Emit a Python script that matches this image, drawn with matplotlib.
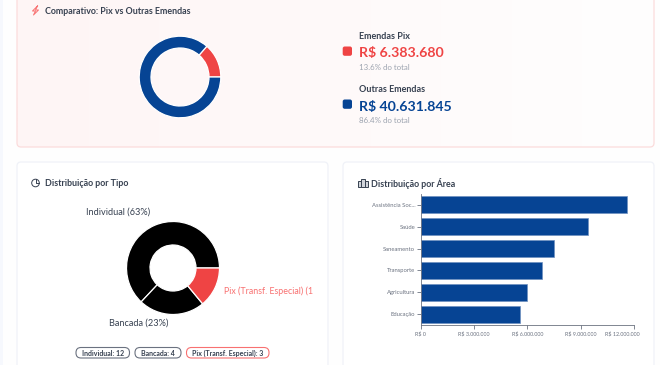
import matplotlib.pyplot as plt
import numpy as np
from matplotlib.patches import FancyBboxPatch, Rectangle
from matplotlib.ticker import FuncFormatter
from matplotlib.transforms import ScaledTranslation

W, H = 660, 365

# Comparativo
comp_labels = ['Emendas Pix', 'Outras Emendas']
comp_values = [6383680, 40631845]
comp_texts = ['R$ 6.383.680', 'R$ 40.631.845']
comp_pcts = ['13.6% do total', '86.4% do total']

# Tipo
tipo_labels = ['Individual', 'Bancada', 'Pix (Transf. Especial)']
tipo_values = [63, 23, 14]
tipo_counts = [12, 4, 3]

# Area
areas = ['Assistência Soc...', 'Saúde', 'Saneamento', 'Transporte', 'Agricultura', 'Educação']
area_values = [11580000, 9430000, 7520000, 6820000, 6000000, 5600000]
area_ticks = [0, 3000000, 6000000, 9000000, 12000000]

RED = '#ef4444'
BLUE = '#064494'
DARK = '#374151'
GRAY = '#9ca3af'

plt.rcParams['font.family'] = ['Lato', 'DejaVu Sans']

fig = plt.figure(figsize=(W / 100, H / 100), dpi=100, facecolor='#fefefe')
bg = fig.add_axes([0, 0, 1, 1])
bg.set_xlim(0, W)
bg.set_ylim(H, 0)
bg.axis('off')


def card(x, y, w, h, edge, face='white'):
    p = FancyBboxPatch((x, y), w, h, boxstyle='round,pad=0,rounding_size=4',
                       fc=face, ec=edge, lw=0.9)
    bg.add_patch(p)
    return p


def sub_axes(x0, y0, x1, y1):
    return fig.add_axes([x0 / W, 1 - y1 / H, (x1 - x0) / W, (y1 - y0) / H])


bg.add_patch(Rectangle((0, 0), 3, H, fc='#f6f8fd', ec='none'))

# card with the pink gradient
top = card(17, -8, 637, 155, '#fbdcdc', 'none')
grad = np.linspace(0, 1, 256)
left = np.array([254, 245, 245]) / 255
right = np.array([255, 254, 254]) / 255
cols = (left + (right - left) * grad[:, None])[None, :, :]
im = bg.imshow(cols, extent=(17, 654, 147, -8), aspect='auto', zorder=0)
im.set_clip_path(top)
bg.set_xlim(0, W)
bg.set_ylim(H, 0)

card(17, 162, 311, 215, '#f0f2f8')
card(343, 162, 311, 215, '#f0f2f8')

# titles
bg.text(45, 11, 'Comparativo: Pix vs Outras Emendas', fontsize=6.4, color=DARK,
        va='center', fontweight='bold')
bg.text(45, 183.5, 'Distribuição por Tipo', fontsize=6.4, color=DARK, va='center', fontweight='bold')
bg.text(371, 183.5, 'Distribuição por Área', fontsize=6.4, color=DARK, va='center', fontweight='bold')

# small title icons
bg.plot([37.5, 32.5, 35.5, 33.5, 38.5, 35.5, 37.5], [6, 11, 11, 15, 10, 10, 6], color='#f87171', lw=0.7)
bg.add_patch(plt.Circle((35.5, 183), 3.8, fc='none', ec=DARK, lw=0.7))
bg.plot([35.5, 35.5, 39.3], [179.2, 183, 183], color=DARK, lw=0.7)
for ix, iy, iw, ih in [(357.5, 181, 3, 6), (360.5, 179, 4, 8), (364.5, 181, 3, 6)]:
    bg.add_patch(Rectangle((ix, iy), iw, ih, fc='#d1d5db', ec=DARK, lw=0.7))

# comparativo donut
ax = sub_axes(180 - 42, 77 - 42, 180 + 42, 77 + 42)
ax.pie(comp_values, colors=[RED, BLUE], startangle=0, counterclock=True, radius=40.8 / 42,
       wedgeprops=dict(width=11.8 / 42, edgecolor='white', linewidth=0.9))
ax.set_xlim(-1, 1)
ax.set_ylim(-1, 1)

# comparativo legend
rows_y = [36.5, 89.5]
for i, c in enumerate([RED, BLUE]):
    y = rows_y[i]
    bg.add_patch(FancyBboxPatch((342.7, y + 10, ), 9.3, 9.3, boxstyle='round,pad=0,rounding_size=2',
                                fc=c, ec='none'))
    bg.text(359, y, comp_labels[i], fontsize=6.5, color=DARK, va='center', fontweight='bold')
    bg.text(359, y + 17, comp_texts[i], fontsize=10.2, color=c, va='center', fontweight='bold')
    bg.text(359, y + 31, comp_pcts[i], fontsize=5.7, color=GRAY, va='center')

# tipo donut
ax2 = sub_axes(173 - 48, 268 - 48, 173 + 48, 268 + 48)
ax2.pie(tipo_values, colors=['black', 'black', RED], startangle=0, counterclock=True,
        radius=46.5 / 48, wedgeprops=dict(width=23.5 / 48, edgecolor='white', linewidth=0.9))
ax2.set_xlim(-1, 1)
ax2.set_ylim(-1, 1)

bg.text(86, 212, f'{tipo_labels[0]} ({tipo_values[0]}%)', fontsize=6.6, color=DARK, va='center')
bg.text(109, 323.5, f'{tipo_labels[1]} ({tipo_values[1]}%)', fontsize=6.6, color=DARK, va='center')
bg.text(224.5, 291, f'{tipo_labels[2]} (1', fontsize=6.4, color='#f87171', va='center')

# badges
badge_x = [(76, 129.5), (135, 181), (186.5, 269)]
badge_cols = ['#6b7280', '#6b7280', '#f87171']
for i in range(3):
    x0, x1 = badge_x[i]
    bg.add_patch(FancyBboxPatch((x0, 347.5), x1 - x0, 10.5, boxstyle='round,pad=0,rounding_size=5',
                                fc='white', ec=badge_cols[i], lw=0.8))
    bg.text((x0 + x1) / 2, 353, f'{tipo_labels[i]}: {tipo_counts[i]}', fontsize=5.0,
            color=DARK, ha='center', va='center', fontweight='bold')

# area bars
ax3 = sub_axes(420.7, 194, 634, 325)
ax3.patch.set_alpha(0)
y_pos = np.arange(len(areas))
ax3.barh(y_pos, area_values, height=0.78, color=BLUE, edgecolor='#6f90c0', linewidth=0.5)
ax3.set_xlim(0, 12000000)
ax3.set_ylim(len(areas) - 0.5, -0.5)
ax3.set_yticks(y_pos)
ax3.set_yticklabels(areas)
ax3.set_xticks(area_ticks)
ax3.xaxis.set_major_formatter(FuncFormatter(lambda v, p: 'R$ ' + f'{int(v):,}'.replace(',', '.')))
ax3.tick_params(axis='both', labelcolor='#6b7280', color='#6b7280',
                width=0.6, length=3, pad=1)
ax3.tick_params(axis='x', labelsize=3.9, pad=1.5)
ax3.tick_params(axis='y', labelsize=4.2)
# the last tick label is pulled in, as in the original
last = ax3.get_xticklabels()[-1]
last.set_transform(last.get_transform() + ScaledTranslation(-11.5 / 100, 0, fig.dpi_scale_trans))
for s in ['top', 'right']:
    ax3.spines[s].set_visible(False)
for s in ['left', 'bottom']:
    ax3.spines[s].set_color('#6b7280')
    ax3.spines[s].set_linewidth(0.6)

fig.savefig('out.png', dpi=100, facecolor=fig.get_facecolor())
